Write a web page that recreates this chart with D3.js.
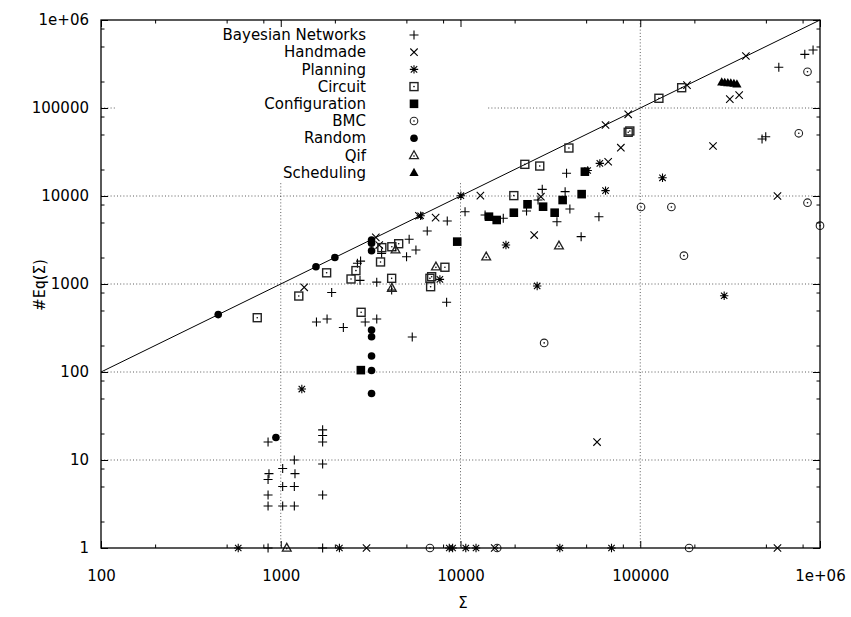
<!DOCTYPE html>
<html>
<head>
<meta charset="utf-8">
<script src="https://cdn.jsdelivr.net/npm/d3@7"></script>
<style>
  html, body { margin: 0; padding: 0; background: #fff; }
  svg { display: block; font-family: "DejaVu Sans", sans-serif; }
</style>
</head>
<body>
<svg id="chart" width="851" height="617"></svg>
<script>
// Size of the constraint set (x) against the number of equivalence classes (y), per benchmark family.
const bayesianNetworks = [
  [2670,1720],[2780,1820],[2760,1100],[3420,1050],[3640,2230],[1920,800],[1580,370],[1810,400],
  [2230,320],[2950,370],[3420,400],[4140,855],
  [850,16],[860,7],[850,6],[850,4],[850,3],[1025,8],[1025,5],[1025,3],[1190,10],[1200,7],[1190,5],[1190,3],
  [1710,22],[1710,19],[1710,16],[1710,9],[1710,4],[850,1],[1710,1],
  [10600,6630],[8440,5200],[6530,4000],[5180,3220],[5650,2430],[5010,2040],[8370,620],[5390,250],
  [13700,6090],[17300,5580],[23300,6760],[27000,9000],[28500,11900],[34400,5100],[40600,7110],
  [38200,11200],[38900,18100],[46900,3450],[58900,5820],
  [823000,407000],[915000,456000],[590000,290000],[476000,44400],[499000,47200]
];
const handmade = [
  [1350,917],[3380,3390],[3530,2770],[5870,5970],[7270,5670],[12900,10100],[28000,9820],[25700,3600],
  [57500,16],[64100,64100],[66300,24500],[78000,35400],[85700,84800],[182000,182000],[387000,390000],
  [254000,37000],[315000,126000],[355000,140000],[580000,10000],[3000,1],[15500,1],[580000,1]
];
const planning = [
  [1310,64],[6000,5970],[10050,10080],[7680,1130],[17900,2770],[26700,950],[51000,19500],[59600,23500],
  [64100,11500],[133000,16100],[293000,736],
  [580,1],[2120,1],[8660,1],[9040,1],[10700,1],[12200,1],[35700,1],[69200,1]
];
const circuit = [
  [740,414],[1260,730],[1800,1340],[2460,1140],[2620,1420],[2800,477],[3590,1780],[3650,2590],
  [4150,2650],[4140,1160],[4530,2870],[8190,1550],[6910,1210],[6760,1160],[6820,932],[19800,10100],
  [22800,22900],[27600,21900],[40100,35100],[85700,53000],[87500,54800],[127000,129000],[170000,170000]
];
const configuration = [
  [2790,105],[9590,3030],[14400,5820],[15900,5340],[19800,6460],[23600,8050],[28800,7560],
  [33400,6460],[37000,9000],[47200,10500],[49200,18900]
];
const bmc = [
  [29200,214],[101000,7500],[149000,7500],[175000,2100],[762000,51600],[852000,258000],[852000,8390],
  [1000000,4600],[6760,1],[16000,1],[187000,1]
];
const random = [
  [449,449],[1570,1570],[2000,2000],[3200,3160],[3200,2900],[3200,2390],[3200,300],[3200,252],
  [3200,152],[3200,104],[3200,57],[940,18]
];
const qif = [[1080,1],[4350,2450],[4150,900],[7300,1570],[13900,2040],[35300,2720]];
const scheduling = [
  [284000,197000],[295000,195000],[307000,193000],[319000,192000],[332000,190000],[345000,187000]
];

const seriesNames = ["Bayesian Networks","Handmade","Planning","Circuit","Configuration","BMC","Random","Qif","Scheduling"];
const seriesData = [bayesianNetworks, handmade, planning, circuit, configuration, bmc, random, qif, scheduling];
const seriesSymbols = ["plus","cross","star","boxDot","boxFill","circleDot","circleFill","triDot","triFill"];

const xTickValues = [100, 1000, 10000, 100000, 1000000];
const xTickLabels = ["100", "1000", "10000", "100000", "1e+06"];
const yTickValues = [1, 10, 100, 1000, 10000, 100000, 1000000];
const yTickLabels = ["1", "10", "100", "1000", "10000", "100000", "1e+06"];
const minorFactors = [2, 5, 8];
const identityLine = [100, 1000000];

const svg = d3.select("#chart");
const plotLeft = 101, plotRight = 820, plotTop = 20, plotBottom = 548;

const x = d3.scaleLog().domain([100, 1e6]).range([plotLeft, plotRight]);
const y = d3.scaleLog().domain([1, 1e6]).range([plotBottom, plotTop]);

function minorTicks(majors) {
  const out = [];
  for (let i = 0; i < majors.length - 1; i++) minorFactors.forEach(f => out.push(majors[i] * f));
  return out;
}

svg.append("rect").attr("width", 851).attr("height", 617).attr("fill", "#fff");

// grid
const grid = svg.append("g").attr("stroke", "#333").attr("stroke-width", 0.8).attr("stroke-dasharray", "1,2.2");
xTickValues.slice(1, -1).forEach(v => {
  grid.append("line").attr("x1", x(v)).attr("x2", x(v)).attr("y1", plotTop).attr("y2", plotBottom);
});
yTickValues.slice(1, -1).forEach(v => {
  grid.append("line").attr("x1", plotLeft).attr("x2", plotRight).attr("y1", y(v)).attr("y2", y(v));
});

// opaque key background
svg.append("rect").attr("x", 116).attr("y", plotTop + 1).attr("width", 371).attr("height", 161).attr("fill", "#fff");

// y = x reference line
svg.append("line")
  .attr("x1", x(identityLine[0])).attr("y1", y(identityLine[0]))
  .attr("x2", x(identityLine[1])).attr("y2", y(identityLine[1]))
  .attr("stroke", "#000").attr("stroke-width", 1);

function drawSymbol(g, type, cx, cy) {
  const s = g.append("g").attr("transform", `translate(${cx},${cy})`);
  switch (type) {
    case "plus":
      s.append("path").attr("d", "M-4.5,0H4.5M0,-4.5V4.5").attr("stroke", "#000").attr("stroke-width", 1.1).attr("fill", "none");
      break;
    case "cross":
      s.append("path").attr("d", "M-3.7,-3.7L3.7,3.7M-3.7,3.7L3.7,-3.7").attr("stroke", "#000").attr("stroke-width", 1.1).attr("fill", "none");
      break;
    case "star":
      s.append("path").attr("d", "M-4.2,0H4.2M0,-4.2V4.2M-3.2,-3.2L3.2,3.2M-3.2,3.2L3.2,-3.2").attr("stroke", "#000").attr("stroke-width", 1.1).attr("fill", "none");
      break;
    case "boxDot":
      s.append("rect").attr("x", -4).attr("y", -4).attr("width", 8).attr("height", 8).attr("fill", "none").attr("stroke", "#222").attr("stroke-width", 1.4);
      s.append("circle").attr("r", 0.8).attr("fill", "#000");
      break;
    case "boxFill":
      s.append("rect").attr("x", -4.3).attr("y", -4.3).attr("width", 8.6).attr("height", 8.6).attr("fill", "#000");
      break;
    case "circleDot":
      s.append("circle").attr("r", 3.8).attr("fill", "none").attr("stroke", "#222").attr("stroke-width", 1.1);
      s.append("circle").attr("r", 0.8).attr("fill", "#000");
      break;
    case "circleFill":
      s.append("circle").attr("r", 3.8).attr("fill", "#000");
      break;
    case "triDot":
      s.append("path").attr("d", "M0,-4.6L4.4,3.2L-4.4,3.2Z").attr("fill", "none").attr("stroke", "#222").attr("stroke-width", 1.3);
      s.append("circle").attr("cy", 0.6).attr("r", 0.8).attr("fill", "#000");
      break;
    case "triFill":
      s.append("path").attr("d", "M0,-4.8L4.6,3.3L-4.6,3.3Z").attr("fill", "#000");
      break;
  }
}

// points
const pts = svg.append("g");
seriesData.forEach((data, i) => {
  data.forEach(d => drawSymbol(pts, seriesSymbols[i], x(d[0]), y(d[1])));
});

// key
const key = svg.append("g").attr("font-size", 15).attr("fill", "#000");
seriesNames.forEach((name, i) => {
  const cy = 35 + i * 17.2;
  key.append("text").attr("x", 366).attr("y", cy).attr("dy", "0.35em").attr("text-anchor", "end").text(name);
  drawSymbol(key, seriesSymbols[i], 414, cy);
});

// axes
function styleAxis(g) {
  g.select(".domain").remove();
  g.selectAll("line").attr("stroke", "#000").attr("stroke-width", 1);
  g.selectAll("text").attr("font-family", "DejaVu Sans, sans-serif").attr("font-size", 15).attr("fill", "#000");
}
const xMinor = minorTicks(xTickValues);
const yMinor = minorTicks(yTickValues);

svg.append("g").attr("transform", `translate(0,${plotBottom})`)
  .call(d3.axisBottom(x).tickValues(xTickValues).tickSize(-7).tickPadding(22).tickFormat((d, i) => xTickLabels[i]))
  .call(styleAxis);
svg.append("g").attr("transform", `translate(0,${plotBottom})`)
  .call(d3.axisBottom(x).tickValues(xMinor).tickSize(-3.5).tickFormat(""))
  .call(styleAxis);
svg.append("g").attr("transform", `translate(0,${plotTop})`)
  .call(d3.axisTop(x).tickValues(xTickValues).tickSize(-7).tickFormat(""))
  .call(styleAxis);
svg.append("g").attr("transform", `translate(0,${plotTop})`)
  .call(d3.axisTop(x).tickValues(xMinor).tickSize(-3.5).tickFormat(""))
  .call(styleAxis);

svg.append("g").attr("transform", `translate(${plotLeft},0)`)
  .call(d3.axisLeft(y).tickValues(yTickValues).tickSize(-7).tickPadding(12).tickFormat((d, i) => yTickLabels[i]))
  .call(styleAxis);
svg.append("g").attr("transform", `translate(${plotLeft},0)`)
  .call(d3.axisLeft(y).tickValues(yMinor).tickSize(-3.5).tickFormat(""))
  .call(styleAxis);
svg.append("g").attr("transform", `translate(${plotRight},0)`)
  .call(d3.axisRight(y).tickValues(yTickValues).tickSize(-7).tickFormat(""))
  .call(styleAxis);
svg.append("g").attr("transform", `translate(${plotRight},0)`)
  .call(d3.axisRight(y).tickValues(yMinor).tickSize(-3.5).tickFormat(""))
  .call(styleAxis);

// border
svg.append("rect").attr("x", plotLeft).attr("y", plotTop).attr("width", plotRight - plotLeft).attr("height", plotBottom - plotTop)
  .attr("fill", "none").attr("stroke", "#000").attr("stroke-width", 1.3);

// axis titles
svg.append("text").attr("x", 463).attr("y", 603).attr("dy", "0.35em").attr("text-anchor", "middle")
  .attr("font-size", 15).text("Σ");
const yl = svg.append("text").attr("transform", "translate(40,285) rotate(-90)").attr("dy", "0.35em")
  .attr("text-anchor", "middle").attr("font-size", 15);
yl.append("tspan").text("#");
yl.append("tspan").attr("font-family", "DejaVu Sans Mono, monospace").text("Eq");
yl.append("tspan").text("(Σ)");
</script>
</body>
</html>
